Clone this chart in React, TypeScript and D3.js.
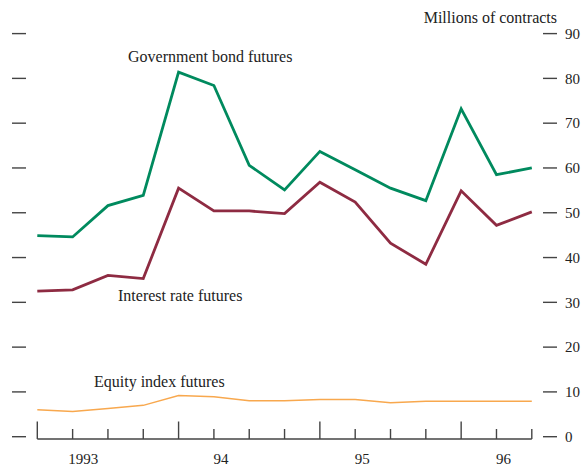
import React from "react";
import * as d3 from "d3";

const quarters = d3.range(15);
const govBond = [44.9, 44.6, 51.6, 53.9, 81.4, 78.4, 60.6, 55.1, 63.7, 59.6, 55.5, 52.7, 73.2, 58.5, 60.0];
const interestRate = [32.5, 32.8, 36.0, 35.3, 55.5, 50.4, 50.4, 49.8, 56.8, 52.4, 43.2, 38.5, 54.9, 47.2, 50.2];
const equityIndex = [6.0, 5.6, 6.3, 7.0, 9.2, 8.9, 8.0, 8.0, 8.3, 8.3, 7.6, 7.9, 7.9, 7.9, 7.9];
const yTicks = [0, 10, 20, 30, 40, 50, 60, 70, 80, 90];
const yearLabels = ["1993", "94", "95", "96"];
const yearLabelPos = [1.3, 5.2, 9.2, 13.2];
const majorTicks = [0, 4, 8, 12];

export default function App() {
  const W = 587, H = 466;
  const x = d3.scaleLinear().domain([0, 14]).range([37.3, 531.8]);
  const y = d3.scaleLinear().domain([0, 90]).range([436.7, 33.6]);
  const line = d3.line<number>().x((_, i) => x(i)).y((d) => y(d));
  const font = "'Liberation Serif', 'Times New Roman', serif";
  const axisColor = "#444";
  const baseY = 439;
  return (
    <svg width={W} height={H} style={{ position: "absolute", left: 0, top: 0, background: "#fff" }}>
      {yTicks.map((t) => (
        <g key={t}>
          <line x1={12} x2={26} y1={y(t)} y2={y(t)} stroke={axisColor} strokeWidth={1.4} />
          <line x1={543} x2={557} y1={y(t)} y2={y(t)} stroke={axisColor} strokeWidth={1.4} />
          <text x={565} y={y(t)} dy="0.35em" fontFamily={font} fontSize={15} fill="#222">{t}</text>
        </g>
      ))}
      <text x={557} y={22.5} textAnchor="end" fontFamily={font} fontSize={16} fill="#222">Millions of contracts</text>
      <line x1={x(0)} x2={x(14)} y1={baseY} y2={baseY} stroke={axisColor} strokeWidth={1.4} />
      {quarters.map((q) => {
        const major = majorTicks.includes(q);
        return (
          <line key={q} x1={x(q)} x2={x(q)} y1={baseY} y2={major ? 421.5 : 429} stroke={axisColor} strokeWidth={1.4} />
        );
      })}
      {yearLabels.map((l, i) => (
        <text key={l} x={x(yearLabelPos[i])} y={464} textAnchor="middle" fontFamily={font} fontSize={15} fill="#222">{l}</text>
      ))}
      <path d={line(equityIndex) || ""} fill="none" stroke="#F8A84E" strokeWidth={1.5} />
      <path d={line(interestRate) || ""} fill="none" stroke="#8E2B42" strokeWidth={2.8} strokeLinejoin="miter" />
      <path d={line(govBond) || ""} fill="none" stroke="#008A5E" strokeWidth={2.8} strokeLinejoin="miter" />
      <text x={128} y={62} fontFamily={font} fontSize={16} fill="#222">Government bond futures</text>
      <text x={118} y={301} fontFamily={font} fontSize={16} fill="#222">Interest rate futures</text>
      <text x={94} y={387} fontFamily={font} fontSize={16} fill="#222">Equity index futures</text>
    </svg>
  );
}
